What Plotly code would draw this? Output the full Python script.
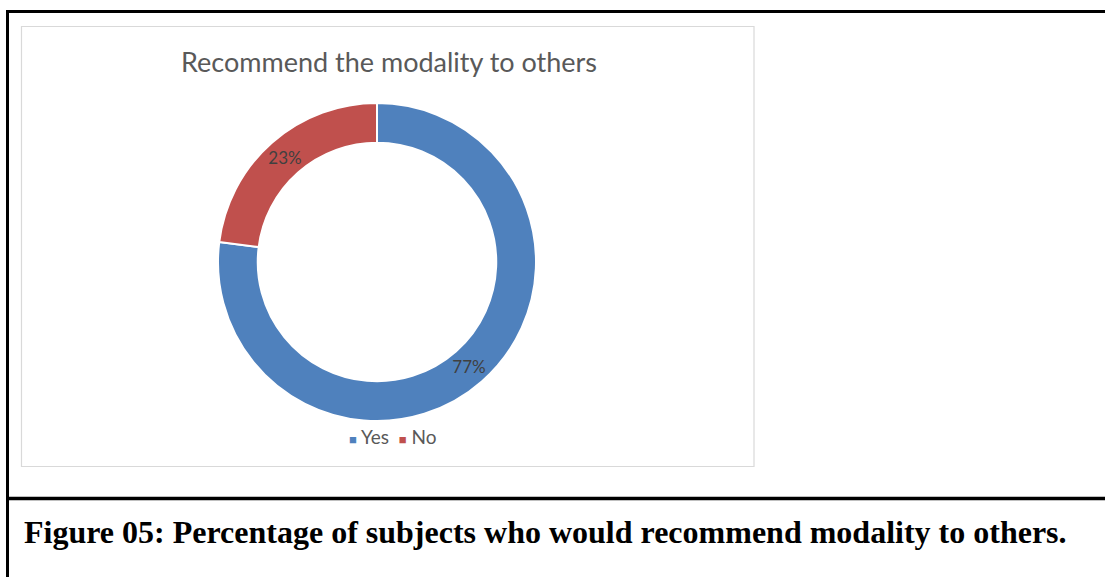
import plotly.graph_objects as go

W, H = 1105, 577

# Survey answers
categories = ["Yes", "No"]
shares = [77, 23]
slice_colors = ["#4F81BD", "#C0504D"]

chart_title = "Recommend the modality to others"
caption = "Figure 05: Percentage of subjects who would recommend modality to others."


def fx(px):
    return px / W


def fy(py):
    return 1 - py / H


fig = go.Figure()

fig.add_trace(go.Pie(
    labels=categories,
    values=shares,
    hole=0.75,
    sort=False,
    direction="clockwise",
    rotation=0,
    marker=dict(colors=slice_colors, line=dict(color="white", width=2)),
    texttemplate="%{percent:.0%}",
    textposition="inside",
    insidetextorientation="horizontal",
    textfont=dict(family="Lato", size=17, color="#404040"),
    showlegend=False,
    hoverinfo="label+percent",
    domain=dict(x=[fx(218), fx(536)], y=[fy(421), fy(103)]),
))

shapes = [
    # chart area frame
    dict(type="rect", x0=fx(21.5), x1=fx(754), y0=fy(466.5), y1=fy(26.5),
         line=dict(color="#D9D9D9", width=1.2), fillcolor="rgba(0,0,0,0)"),
    # outer table frame
    dict(type="line", x0=fx(7.5), x1=fx(1105), y0=fy(11.5), y1=fy(11.5),
         line=dict(color="black", width=3)),
    dict(type="line", x0=fx(7.5), x1=fx(7.5), y0=fy(10), y1=fy(577),
         line=dict(color="black", width=3)),
    dict(type="line", x0=fx(7.5), x1=fx(1105), y0=fy(498.5), y1=fy(498.5),
         line=dict(color="black", width=3.5)),
]

legend_text = (
    "<span style='color:#4F81BD;font-size:13px'>■</span> Yes  "
    "<span style='color:#C0504D;font-size:13px'>■</span> No"
)

annotations = [
    dict(text=chart_title, x=fx(388.5), y=fy(62), xref="paper", yref="paper",
         xanchor="center", yanchor="middle", showarrow=False,
         font=dict(family="Lato", size=27, color="#595959")),
    dict(text=legend_text, x=fx(392), y=fy(436), xref="paper", yref="paper",
         xanchor="center", yanchor="middle", showarrow=False,
         font=dict(family="Lato", size=19, color="#595959")),
    dict(text="<b>" + caption + "</b>", x=fx(22), y=fy(532), xref="paper", yref="paper",
         xanchor="left", yanchor="middle", showarrow=False,
         font=dict(family="Liberation Serif", size=32, color="black")),
]

fig.update_layout(
    width=W, height=H,
    margin=dict(l=0, r=0, t=0, b=0),
    paper_bgcolor="white",
    plot_bgcolor="white",
    shapes=shapes,
    annotations=annotations,
)

fig.write_html("out.html")
